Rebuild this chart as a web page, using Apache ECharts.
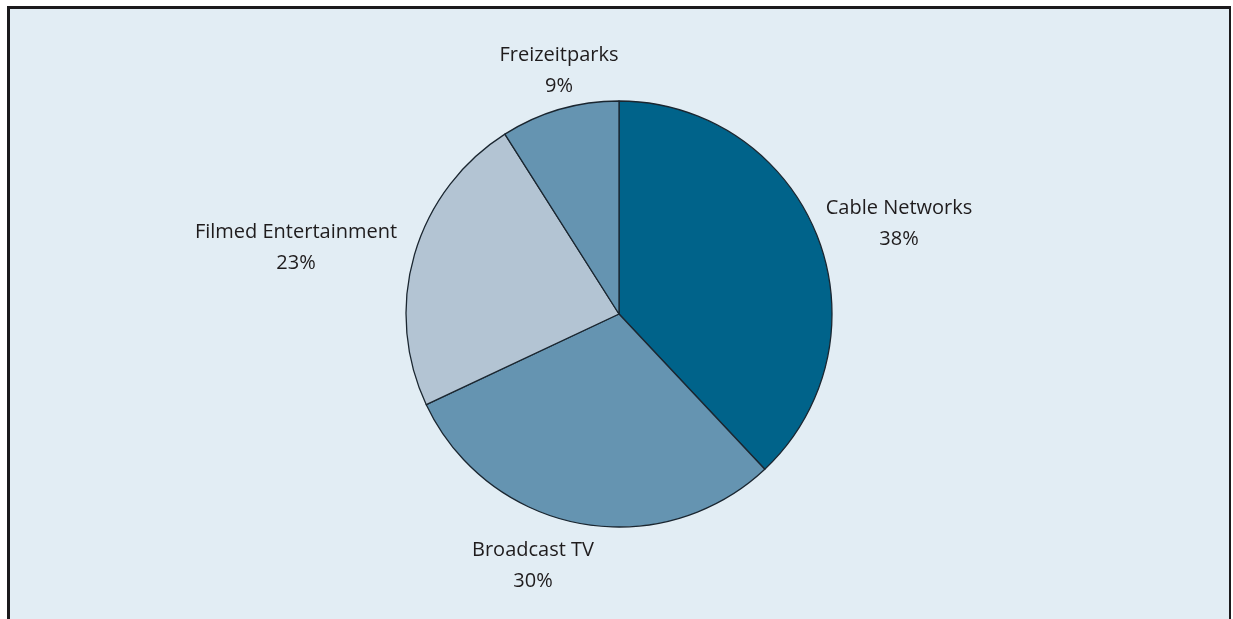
<!DOCTYPE html>
<html>
<head>
<meta charset="utf-8">
<script src="https://cdn.jsdelivr.net/npm/echarts@6/dist/echarts.min.js"></script>
<style>
  html, body { margin: 0; padding: 0; background: #ffffff; }
  #frame {
    position: absolute; left: 7px; top: 6px; width: 1219px; height: 640px;
    background: #e2edf4;
    border-left: 3px solid #1b1a1c; border-top: 3px solid #1b1a1c; border-right: 2px solid #1b1a1c;
  }
  #chart { position: absolute; left: 0; top: 0; width: 1233px; height: 619px; }
</style>
</head>
<body>
<div id="frame"></div>
<div id="chart"></div>
<script>
// Segment shares (percent), clockwise from 12 o'clock
const segments = ['Cable Networks', 'Broadcast TV', 'Filmed Entertainment', 'Freizeitparks'];
const shares = [38, 30, 23, 9];
const colors = ['#00638a', '#6594b1', '#b3c4d3', '#6594b1'];

// Label anchor offsets from the pie centre (px)
const labelOffsets = [[280, -90], [-86, 252], [-323, -66], [-60, -243]];
const pieCenter = [619, 314];

const chart = echarts.init(document.getElementById('chart'), null, { renderer: 'canvas' });
chart.setOption({
  backgroundColor: 'transparent',
  animation: false,
  series: [{
    type: 'pie',
    center: pieCenter,
    radius: 213,
    startAngle: 90,
    clockwise: true,
    silent: true,
    data: segments.map((name, i) => ({
      name: name,
      value: shares[i],
      itemStyle: { color: colors[i] }
    })),
    itemStyle: { borderColor: '#1a2630', borderWidth: 1.3 },
    label: {
      show: true,
      position: 'outside',
      formatter: '{b}\n{c}%',
      fontFamily: '"Open Sans", sans-serif',
      fontSize: 20,
      lineHeight: 31,
      color: '#1f1c1d',
      align: 'center'
    },
    labelLine: { show: false },
    labelLayout: function (params) {
      const off = labelOffsets[params.dataIndex];
      return {
        x: pieCenter[0] + off[0],
        y: pieCenter[1] + off[1],
        align: 'center',
        verticalAlign: 'middle'
      };
    }
  }]
});
</script>
</body>
</html>
